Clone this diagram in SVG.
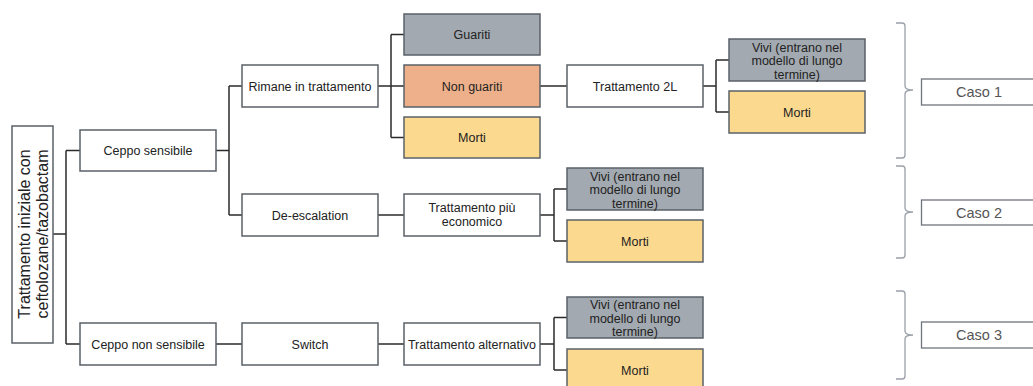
<svg xmlns="http://www.w3.org/2000/svg" width="1033" height="386" viewBox="0 0 1033 386">
<style>
.b{fill:#fff;stroke:#5b6168;stroke-width:1.5}
.g{fill:#a3a9b0;stroke:#5b6168;stroke-width:1.5}
.o{fill:#eeb08a;stroke:#5b6168;stroke-width:1.5}
.y{fill:#fbd98f;stroke:#5b6168;stroke-width:1.5}
.c{fill:#fff;stroke:#6f757d;stroke-width:1.3}
text{font-family:"Liberation Sans",Arial,sans-serif;font-size:12.5px;fill:#222;text-anchor:middle}
.k{font-size:14.5px;fill:#555}
.r{font-size:16px}
.ln{fill:none;stroke:#2b2b2b;stroke-width:1.5}
.br{fill:none;stroke:#9aa0a8;stroke-width:1.3}
</style>
<g id="connectors">
<path class="ln" d="M53 234H66M66 150.5V344M66 150.5H80M66 344H80"/>
<path class="ln" d="M216 150.5H229M229 86V215M229 86H242M229 215H242"/>
<path class="ln" d="M216 344H242"/>
<path class="ln" d="M378 86H391M391 34.5V137.5M391 34.5H404M391 86H404M391 137.5H404"/>
<path class="ln" d="M540 86H567"/>
<path class="ln" d="M703 86H716M716 60V112M716 60H729M716 112H729"/>
<path class="ln" d="M378 215H404"/>
<path class="ln" d="M540 215H554M554 189V241M554 189H567M554 241H567"/>
<path class="ln" d="M378 344H404"/>
<path class="ln" d="M540 344H554M554 317.5V370M554 317.5H567M554 370H567"/>
</g>
<g id="root"><rect class="b" x="12" y="126" width="41" height="217"/>
<text class="r" transform="translate(32.5 234) rotate(-90)"><tspan x="0" y="-3">Trattamento iniziale con</tspan><tspan x="0" y="15">ceftolozane/tazobactam</tspan></text></g>
<g id="ceppo-sensibile"><rect class="b" x="80" y="130" width="136" height="41"/><text x="148" y="155">Ceppo sensibile</text></g>
<g id="ceppo-non-sensibile"><rect class="b" x="80" y="323" width="136" height="42"/><text x="148" y="348.5">Ceppo non sensibile</text></g>
<g id="rimane"><rect class="b" x="242" y="65" width="136" height="42"/><text x="310" y="90.5">Rimane in trattamento</text></g>
<g id="de-escalation"><rect class="b" x="242" y="194" width="136" height="42"/><text x="310" y="219.5">De-escalation</text></g>
<g id="switch"><rect class="b" x="242" y="323" width="136" height="42"/><text x="310" y="348.5">Switch</text></g>
<g id="guariti"><rect class="g" x="404" y="14" width="136" height="41"/><text x="472" y="39">Guariti</text></g>
<g id="non-guariti"><rect class="o" x="404" y="65" width="136" height="42"/><text x="472" y="90.5">Non guariti</text></g>
<g id="morti-1a"><rect class="y" x="404" y="117" width="136" height="41"/><text x="472" y="142">Morti</text></g>
<g id="trattamento-2l"><rect class="b" x="567" y="65" width="136" height="42"/><text x="635" y="90.5">Trattamento 2L</text></g>
<g id="vivi-1"><rect class="g" x="729" y="39" width="136" height="42"/><text x="797"><tspan x="797" y="51.5">Vivi (entrano nel</tspan><tspan x="797" y="65">modello di lungo</tspan><tspan x="797" y="78.5">termine)</tspan></text></g>
<g id="morti-1b"><rect class="y" x="729" y="91" width="136" height="42"/><text x="797" y="116.5">Morti</text></g>
<g id="trattamento-economico"><rect class="b" x="404" y="194" width="136" height="42"/><text x="472"><tspan x="472" y="212">Trattamento più</tspan><tspan x="472" y="226">economico</tspan></text></g>
<g id="vivi-2"><rect class="g" x="567" y="168" width="136" height="42"/><text x="635"><tspan x="635" y="180.5">Vivi (entrano nel</tspan><tspan x="635" y="194">modello di lungo</tspan><tspan x="635" y="207.5">termine)</tspan></text></g>
<g id="morti-2"><rect class="y" x="567" y="220" width="136" height="42"/><text x="635" y="245.5">Morti</text></g>
<g id="trattamento-alternativo"><rect class="b" x="404" y="323" width="136" height="42"/><text x="472" y="348.5">Trattamento alternativo</text></g>
<g id="vivi-3"><rect class="g" x="567" y="297" width="136" height="41"/><text x="635"><tspan x="635" y="309">Vivi (entrano nel</tspan><tspan x="635" y="322.5">modello di lungo</tspan><tspan x="635" y="336">termine)</tspan></text></g>
<g id="morti-3"><rect class="y" x="567" y="349" width="136" height="42"/><text x="635" y="374.5">Morti</text></g>
<g id="bracket-1"><path class="br" d="M896 23H902Q905 23 905 26V86Q905 90 913 90Q905 90 905 94V155Q905 158 902 158H896"/></g>
<g id="bracket-2"><path class="br" d="M896 166H902Q905 166 905 169V208Q905 212 913 212Q905 212 905 216V255Q905 258 902 258H896"/></g>
<g id="bracket-3"><path class="br" d="M896 291H902Q905 291 905 294V331Q905 335 913 335Q905 335 905 339V376Q905 379 902 379H896"/></g>
<g id="caso-1"><rect class="c" x="921.5" y="79" width="120" height="26"/><text class="k" x="979" y="97">Caso 1</text></g>
<g id="caso-2"><rect class="c" x="921.5" y="200" width="120" height="25"/><text class="k" x="979" y="217.5">Caso 2</text></g>
<g id="caso-3"><rect class="c" x="921.5" y="322" width="120" height="26"/><text class="k" x="979" y="340">Caso 3</text></g>
</svg>
